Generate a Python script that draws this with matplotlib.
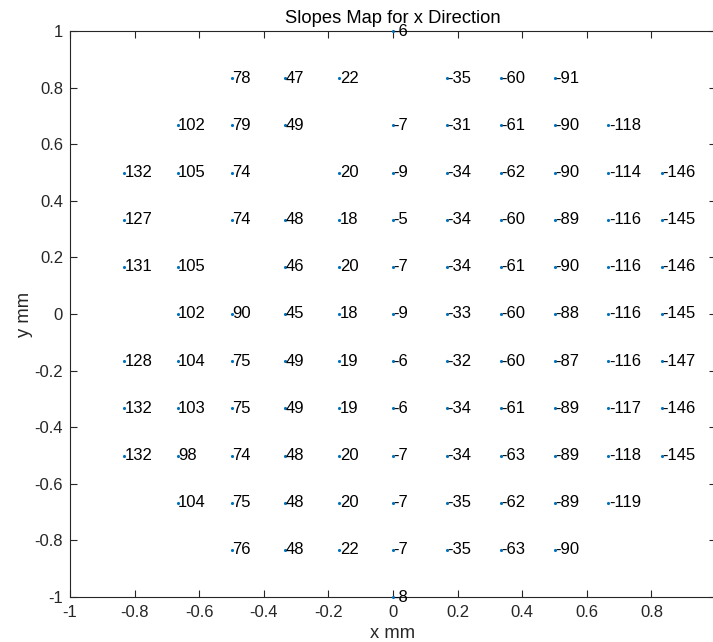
import numpy as np
import matplotlib
matplotlib.use("Agg")
import matplotlib.pyplot as plt

plt.rcParams['font.family'] = ['Liberation Sans', 'DejaVu Sans']

# grid positions (mm)
x_grid = [-5/6, -4/6, -3/6, -2/6, -1/6, 0.0, 1/6, 2/6, 3/6, 4/6, 5/6]
y_grid = [1.0, 5/6, 4/6, 3/6, 2/6, 1/6, 0.0, -1/6, -2/6, -3/6, -4/6, -5/6, -1.0]

N = None
# slope values, one row per y_grid entry, one column per x_grid entry
slopes = [
    [N,   N,   N,   N,  N,  -6,  N,   N,   N,   N,    N],
    [N,   N,   78,  47, 22, N,   -35, -60, -91, N,    N],
    [N,   102, 79,  49, N,  -7,  -31, -61, -90, -118, N],
    [132, 105, 74,  N,  20, -9,  -34, -62, -90, -114, -146],
    [127, N,   74,  48, 18, -5,  -34, -60, -89, -116, -145],
    [131, 105, N,   46, 20, -7,  -34, -61, -90, -116, -146],
    [N,   102, 90,  45, 18, -9,  -33, -60, -88, -116, -145],
    [128, 104, 75,  49, 19, -6,  -32, -60, -87, -116, -147],
    [132, 103, 75,  49, 19, -6,  -34, -61, -89, -117, -146],
    [132, 98,  74,  48, 20, -7,  -34, -63, -89, -118, -145],
    [N,   104, 75,  48, 20, -7,  -35, -62, -89, -119, N],
    [N,   N,   76,  48, 22, -7,  -35, -63, -90, N,    N],
    [N,   N,   N,   N,  N,  -8,  N,   N,   N,   N,    N],
]

xs, ys, vals = [], [], []
for yi, row in zip(y_grid, slopes):
    for xi, v in zip(x_grid, row):
        if v is not None:
            xs.append(xi); ys.append(yi); vals.append(v)

W, H = 713, 642
fig = plt.figure(figsize=(W/100, H/100), dpi=100)
left, right, top, bottom = 70, 716, 31, 597
ax = fig.add_axes([left/W, 1-bottom/H, (right-left)/W, (bottom-top)/H])

dark = '#262626'
ax.plot(xs, ys, '.', color='#0072BD', markersize=2.5, clip_on=False, zorder=3)
for x, y, v in zip(xs, ys, vals):
    ax.annotate(str(v), (x, y), xytext=(0.4, 0), textcoords='offset points',
                ha='left', va='center', fontsize=12, color='black',
                annotation_clip=False, zorder=4)

ax.set_xlim(-1, 1)
ax.set_ylim(-1, 1)
ax.set_xticks(np.round(np.arange(-1, 1.01, 0.2), 1))
ax.set_yticks(np.round(np.arange(-1, 1.01, 0.2), 1))
ax.set_xticklabels(['-1', '-0.8', '-0.6', '-0.4', '-0.2', '0', '0.2', '0.4', '0.6', '0.8', '1'])
ax.set_yticklabels(['-1', '-0.8', '-0.6', '-0.4', '-0.2', '0', '0.2', '0.4', '0.6', '0.8', '1'])
ax.tick_params(direction='in', length=5, width=0.8, colors=dark, labelsize=12,
               top=True, right=True, labelcolor=dark)
ax.tick_params(axis='x', pad=6)
ax.tick_params(axis='y', pad=5)
for s in ax.spines.values():
    s.set_color(dark)
    s.set_linewidth(0.8)

ax.set_xlabel('x mm', fontsize=13.2, color=dark, labelpad=3)
ax.set_ylabel('y mm', fontsize=13.2, color=dark, labelpad=1)
ax.set_title('Slopes Map for x Direction', fontsize=13.2, color='black', pad=6)

fig.savefig('out.png', dpi=100)
